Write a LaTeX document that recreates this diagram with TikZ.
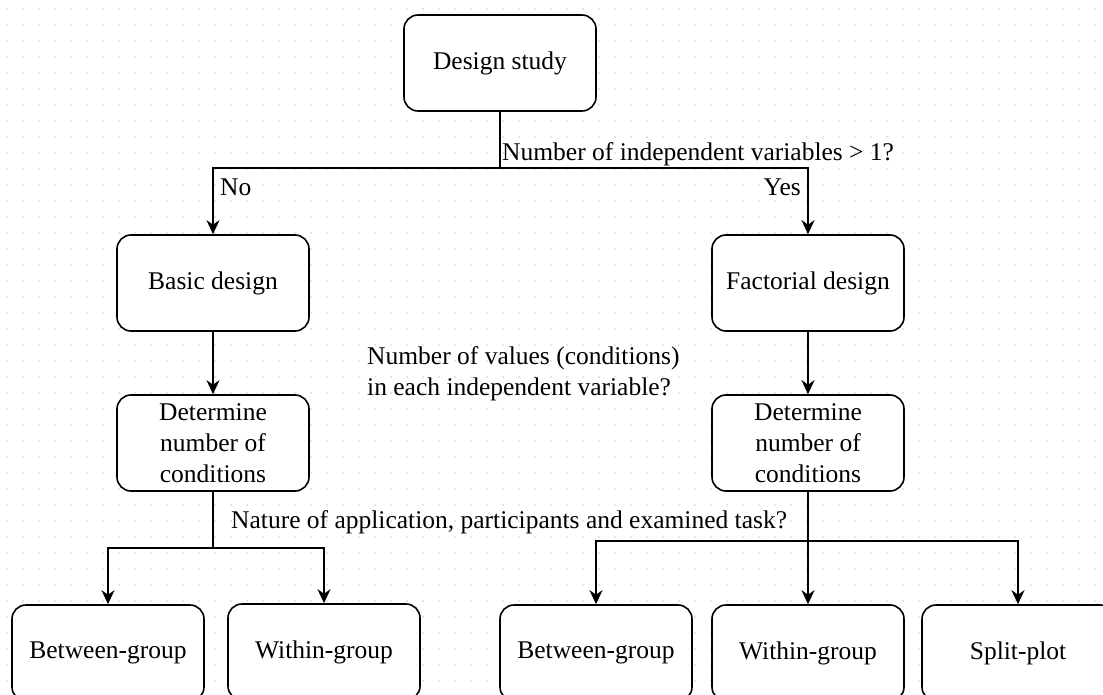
\documentclass[tikz,border=0pt]{standalone}
\usepackage{fontspec}
\setmainfont{Liberation Serif}
\usetikzlibrary{arrows.meta}
\definecolor{gridc}{RGB}{232,232,218}
\begin{document}
\begin{tikzpicture}[x=1pt,y=-1pt,
  txt/.style={font=\fontsize{25.5}{31}\selectfont},
  box/.style={txt, draw, line width=1.6pt, rounded corners=14pt, fill=white,
    minimum width=192pt, minimum height=96pt, inner sep=2pt, align=center},
  lbl/.style={txt, inner sep=0pt, align=left},
  conn/.style={line width=1.6pt},
  arr/.style={conn, -{Stealth[length=14pt,width=13pt,inset=4.5pt]}}]
\useasboundingbox (0,0) rectangle (1103,695);
\fill[white] (0,0) rectangle (1103,695);
\foreach \i in {0,...,68}{
  \foreach \j in {0,...,43}{
    \fill[gridc] ({6+16*\i},{8+16*\j}) rectangle ++(2,2);
  }
}
% nodes
\node[box] (ds) at (500,63) {Design study};
\node[box] (basic) at (213,283) {Basic design};
\node[box] (fact) at (808,283) {Factorial design};
\node[box] (detL) at (213,443) {Determine\\number of\\conditions};
\node[box] (detR) at (808,443) {Determine\\number of\\conditions};
\node[box] (bgL) at (108,653) {Between-group};
\node[box] (wgL) at (324,652) {Within-group};
\node[box] (bgR) at (596,653) {Between-group};
\node[box] (wgR) at (808,653) {Within-group};
\node[box] (sp) at (1018,653) {Split-plot};
% connectors
\draw[arr] (ds.south) -- ++(0,56) -| (basic.north);
\draw[arr] (ds.south) -- ++(0,56) -| (fact.north);
\draw[arr] (basic.south) -- (detL.north);
\draw[arr] (fact.south) -- (detR.north);
\draw[arr] (detL.south) -- ++(0,56) -| (bgL.north);
\draw[arr] (detL.south) -- ++(0,56) -| (wgL.north);
\draw[arr] (detR.south) -- ++(0,49) -| (bgR.north);
\draw[arr] (detR.south) -- (wgR.north);
\draw[arr] (detR.south) -- ++(0,49) -| (sp.north);
% labels
\node[lbl, anchor=base west] (q1) at (502,161) {Number of independent variables > 1?};
\node[lbl, anchor=base west] (no) at (220,196) {No};
\node[lbl, anchor=base east] (yes) at (801,196) {Yes};
\node[lbl, anchor=base west] (q2) at (367,395) {Number of values (conditions)\\in each independent variable?};
\node[lbl, anchor=base west] (q3) at (231,528) {Nature of application, participants and examined task?};
\end{tikzpicture}
\end{document}
